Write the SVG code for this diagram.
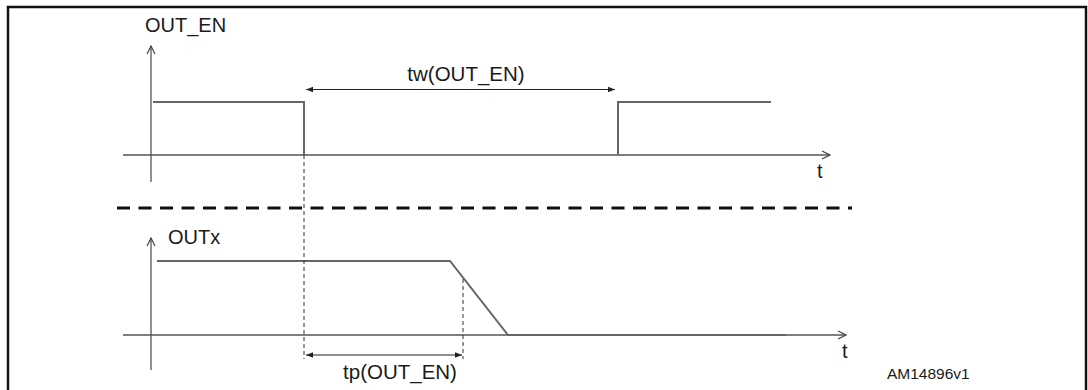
<svg xmlns="http://www.w3.org/2000/svg" width="1088" height="390" viewBox="0 0 1088 390">
<defs>
<marker id="open" viewBox="0 0 10 10" refX="9" refY="5" markerWidth="10" markerHeight="10" markerUnits="userSpaceOnUse" orient="auto">
<path d="M1,1 L9,5 L1,9" fill="none" stroke="#444" stroke-width="1.2"/>
</marker>
<marker id="fill" viewBox="0 0 10 10" refX="10" refY="5" markerWidth="9" markerHeight="7" markerUnits="userSpaceOnUse" orient="auto-start-reverse">
<path d="M0,1 L10,5 L0,9 Z" fill="#222"/>
</marker>
</defs>
<style>
.ax{stroke:#555;stroke-width:1.3;fill:none}
.sig{stroke:#666;stroke-width:2;fill:none}
.dim{stroke:#222;stroke-width:1.2;fill:none}
.vd{stroke:#333;stroke-width:1;stroke-dasharray:4 3;fill:none}
.lbl{font-family:"Liberation Sans",Arial,sans-serif;fill:#1a1a1a}
</style>
<rect x="0" y="0" width="1088" height="390" fill="#fff"/>
<path d="M8,390 L8,7 L1086,7 L1086,390" fill="none" stroke="#111" stroke-width="2.5"/>
<g id="upper-axes">
<line class="ax" x1="151" y1="182" x2="151" y2="46" marker-end="url(#open)"/>
<line class="ax" x1="123" y1="155" x2="830" y2="155" marker-end="url(#open)"/>
<text class="lbl" x="145" y="32" font-size="20">OUT_EN</text>
<text class="lbl" x="817" y="178" font-size="20">t</text>
</g>
<g id="out-en-signal">
<polyline class="sig" points="153,102 304,102 304,155"/>
<polyline class="sig" points="618,155 618,102 771,102"/>
</g>
<g id="separator">
<line x1="117" y1="208" x2="852" y2="208" stroke="#111" stroke-width="3" stroke-dasharray="13 8.5"/>
</g>
<g id="lower-axes">
<line class="ax" x1="151" y1="370" x2="151" y2="238" marker-end="url(#open)"/>
<line class="ax" x1="123" y1="335" x2="846" y2="335" marker-end="url(#open)"/>
<text class="lbl" x="168" y="244" font-size="20">OUTx</text>
<text class="lbl" x="842" y="358" font-size="20">t</text>
</g>
<g id="outx-signal">
<polyline class="sig" points="157,261 450,261 508,335 786,335"/>
</g>
<g id="connectors">
<line class="vd" x1="304" y1="155" x2="304" y2="359"/>
<line class="vd" x1="463" y1="279" x2="463" y2="359"/>
<line class="dim" x1="306" y1="89.5" x2="615" y2="89.5" marker-start="url(#fill)" marker-end="url(#fill)"/>
<line class="dim" x1="306" y1="355" x2="462" y2="355" marker-start="url(#fill)" marker-end="url(#fill)"/>
</g>
<g id="labels">
<text class="lbl" x="466" y="81" font-size="20.5" text-anchor="middle">tw(OUT_EN)</text>
<text class="lbl" x="400" y="379" font-size="20.5" text-anchor="middle">tp(OUT_EN)</text>
<text class="lbl" x="887" y="379" font-size="15.5">AM14896v1</text>
</g>
</svg>
